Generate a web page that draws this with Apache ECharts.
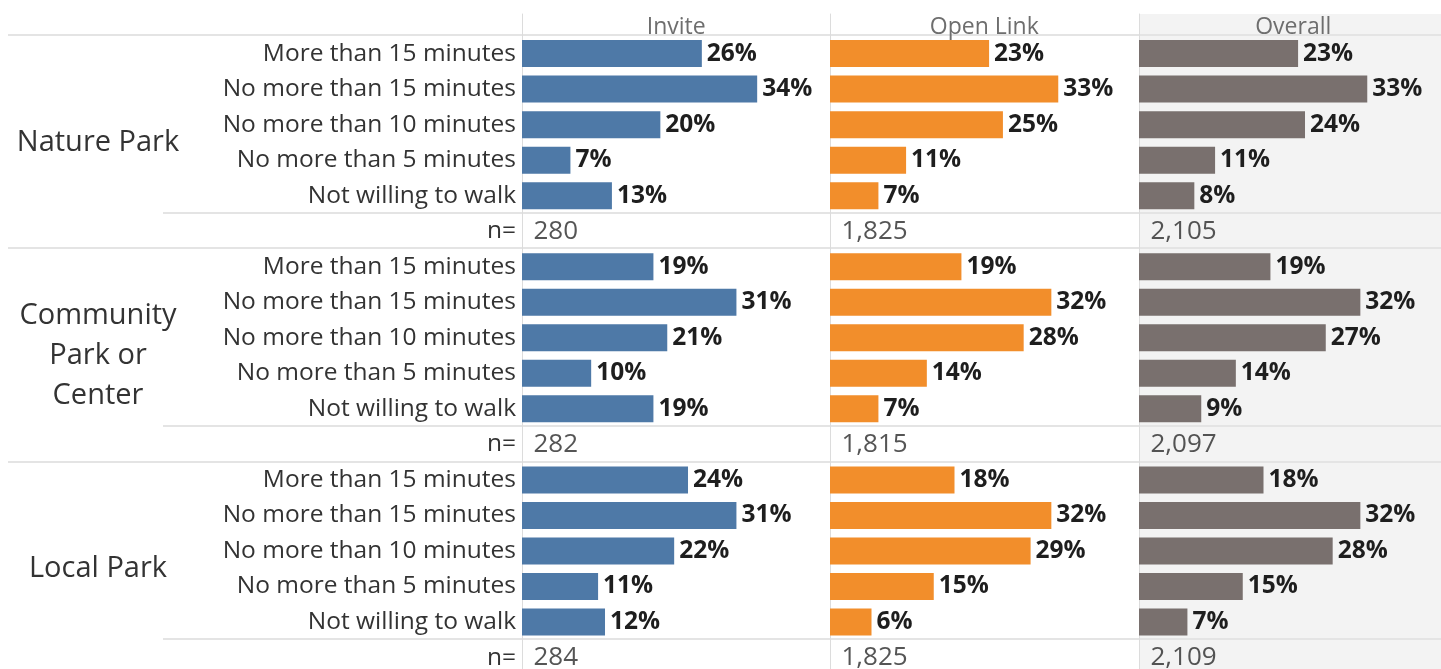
<!DOCTYPE html>
<html>
<head>
<meta charset="utf-8">
<script src="https://cdn.jsdelivr.net/npm/echarts@6/dist/echarts.min.js"></script>
<style>
html,body{margin:0;padding:0;background:#fff;}
#c{width:1441px;height:669px;}
</style>
</head>
<body>
<div id="c"></div>
<script>
// ---- data ----
const groups = ['Nature Park', 'Community\nPark or\nCenter', 'Local Park'];
const levels = ['More than 15 minutes', 'No more than 15 minutes', 'No more than 10 minutes', 'No more than 5 minutes', 'Not willing to walk'];
const nRowLabel = 'n=';
const panes = ['Invite', 'Open Link', 'Overall'];
const invite   = [[26, 34, 20, 7, 13], [19, 31, 21, 10, 19], [24, 31, 22, 11, 12]];
const openLink = [[23, 33, 25, 11, 7], [19, 32, 28, 14, 7], [18, 32, 29, 15, 6]];
const overall  = [[23, 33, 24, 11, 8], [19, 32, 27, 14, 9], [18, 32, 28, 15, 7]];
const inviteN   = ['280', '282', '284'];
const openLinkN = ['1,825', '1,815', '1,825'];
const overallN  = ['2,105', '2,097', '2,109'];

// ---- layout / style ----
const paneValues = [invite, openLink, overall];
const paneN = [inviteN, openLinkN, overallN];
const paneColors = ['#4e79a7', '#f28e2b', '#79706e'];
const paneBg = ['#ffffff', '#ffffff', '#f3f3f3'];
const paneLeft = [522, 830, 1139];
const paneW = 308.5;
const rowTop = 35.8;
const rowPitch = 35.53;
const nRows = groups.length * (levels.length + 1);
const rowsH = rowPitch * nRows;
const xMax = 44.6;
const FONT = '"Open Sans", "Noto Sans", sans-serif';
const lineColor = '#e4e4e4';
const OB = 'none';

const rowCats = [];
groups.forEach(() => { levels.forEach(l => rowCats.push(l)); rowCats.push(nRowLabel); });

const grid = [], xAxis = [], yAxis = [], series = [];

// pane background grids (with header names and left vertical rule)
panes.forEach((p, i) => {
  const gi = grid.length;
  grid.push({ left: paneLeft[i], top: 14, width: paneW, height: 669 - 14, show: true, backgroundColor: paneBg[i], borderWidth: 0, outerBoundsMode: OB });
  xAxis.push({ gridIndex: gi, type: 'value', min: 0, max: 1, position: 'top', name: p, nameLocation: 'middle', nameGap: -13.5,
    nameTextStyle: { color: '#6e6e6e', fontSize: 23, fontFamily: FONT, verticalAlign: 'middle' },
    axisLine: { show: false }, axisTick: { show: false }, axisLabel: { show: false }, splitLine: { show: false } });
  yAxis.push({ gridIndex: gi, type: 'value', min: 0, max: 1,
    axisLine: { show: true, lineStyle: { color: '#dcdcdc', width: 1 } }, axisTick: { show: false }, axisLabel: { show: false }, splitLine: { show: false } });
});

// horizontal rule grids
function ruleGrid(left, pick) {
  const gi = grid.length;
  grid.push({ left: left, right: 0, top: rowTop - 0.8, height: rowsH, outerBoundsMode: OB });
  xAxis.push({ gridIndex: gi, type: 'value', show: false, min: 0, max: 1 });
  yAxis.push({ gridIndex: gi, type: 'category', inverse: true, data: rowCats,
    axisLine: { show: false }, axisTick: { show: false }, axisLabel: { show: false },
    splitLine: { show: true, interval: (idx) => pick(idx), lineStyle: { color: lineColor, width: 2 } } });
}
ruleGrid(8, idx => idx % (levels.length + 1) === 0 && idx < nRows);
ruleGrid(163, idx => idx % (levels.length + 1) === levels.length);

// data grids
panes.forEach((p, i) => {
  const gi = grid.length;
  grid.push({ left: paneLeft[i], top: rowTop, width: paneW, height: rowsH, outerBoundsMode: OB });
  xAxis.push({ gridIndex: gi, type: 'value', min: 0, max: xMax, show: false });
  const yi = yAxis.length;
  yAxis.push({ gridIndex: gi, type: 'category', inverse: true, data: rowCats,
    axisLine: { show: false }, axisTick: { show: false }, splitLine: { show: false },
    axisLabel: { show: i === 0, margin: 6, color: '#333', fontSize: 24.5, fontFamily: FONT, interval: 0 } });
  if (i === 0) {
    yAxis.push({ gridIndex: gi, type: 'category', inverse: true, data: groups, position: 'left', offset: paneLeft[0] - 98,
      axisLine: { show: false }, axisTick: { show: false }, splitLine: { show: false },
      axisLabel: { show: true, margin: 0, align: 'center', color: '#333', fontSize: 29, lineHeight: 40, fontFamily: FONT, interval: 0 } });
  }
  const barData = [];
  const nData = [];
  paneValues[i].forEach((vals, g) => {
    vals.forEach(v => barData.push(v));
    barData.push(null);
    nData.push({ value: [0, g * (levels.length + 1) + levels.length], n: paneN[i][g] });
  });
  series.push({ type: 'bar', xAxisIndex: gi, yAxisIndex: yi, data: barData, barWidth: 27,
    itemStyle: { color: paneColors[i] }, silent: true,
    label: { show: true, position: 'right', distance: 5, formatter: '{c}%', color: '#1e1e1e', fontWeight: 'bold', fontSize: 24.5, fontFamily: FONT } });
  series.push({ type: 'scatter', xAxisIndex: gi, yAxisIndex: yi, data: nData, symbolSize: 1, itemStyle: { color: 'transparent' }, silent: true,
    label: { show: true, position: 'right', distance: 11, formatter: (pr) => pr.data.n, color: '#2a2a2a', fontSize: 26, fontFamily: FONT } });
});

const chart = echarts.init(document.getElementById('c'), null, { renderer: 'canvas' });
chart.setOption({ animation: false, backgroundColor: '#fff', grid, xAxis, yAxis, series, tooltip: { show: false } });
</script>
</body>
</html>
